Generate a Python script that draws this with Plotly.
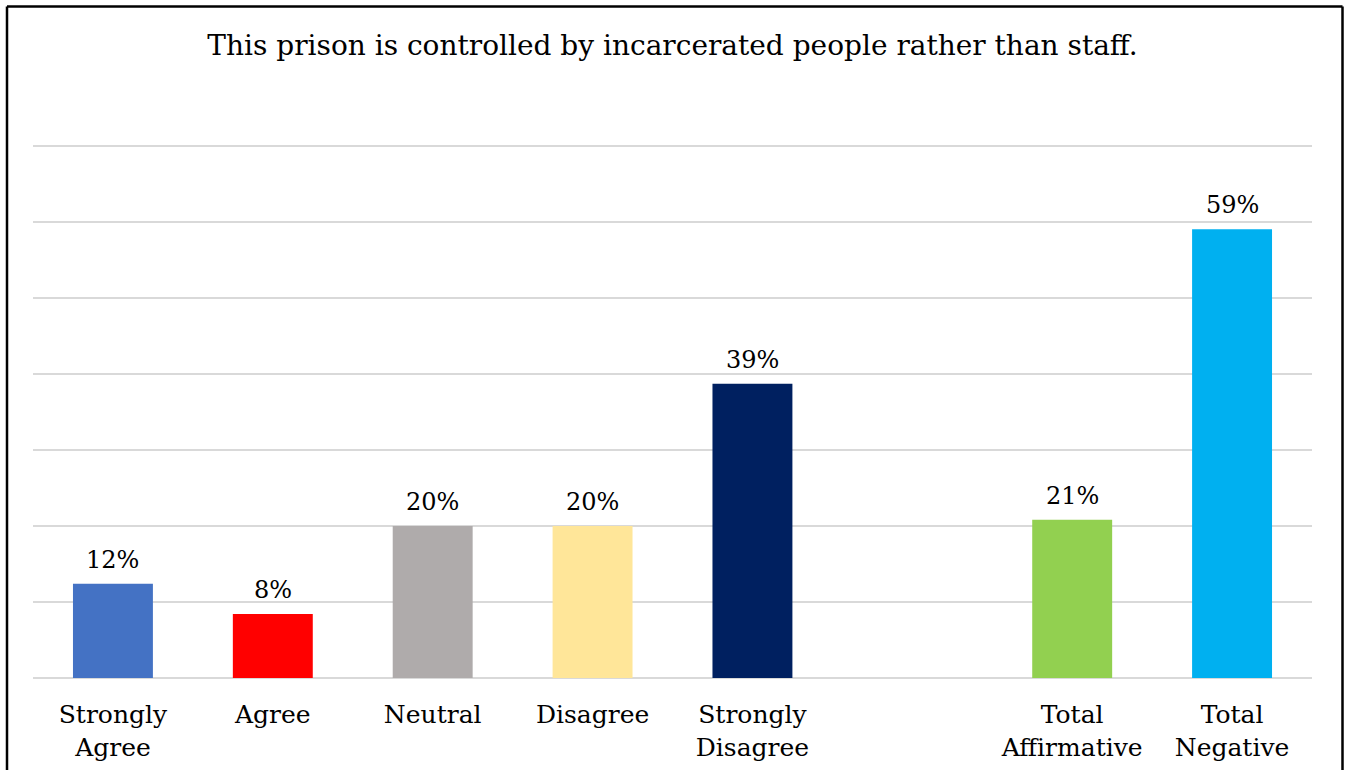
import plotly.graph_objects as go

categories = ["Strongly<br>Agree", "Agree", "Neutral", "Disagree", "Strongly<br>Disagree", "", "Total<br>Affirmative", "Total<br>Negative"]
bar_positions = [0, 1, 2, 3, 4, 6, 7]
values = [12.4, 8.4, 20.0, 20.0, 38.7, 20.8, 59.0]
labels = ["12%", "8%", "20%", "20%", "39%", "21%", "59%"]
colors = ["#4472C4", "#FF0000", "#AFABAB", "#FFE699", "#002060", "#92D050", "#00B0F0"]
title = "This prison is controlled by incarcerated people rather than staff."

FONT = "DejaVu Serif, Liberation Serif, serif"

W, H = 1345, 770
YMAX = 71
L, R, B = 33, 33, 92
T = (146 * YMAX - (H - B)) / (YMAX - 1)
pw, ph = W - L - R, H - T - B

fig = go.Figure()
fig.add_trace(go.Bar(
    x=bar_positions, y=values,
    marker=dict(color=colors, line=dict(width=0)),
    width=0.5, hoverinfo="skip",
))
for xp, v, lab in zip(bar_positions, values, labels):
    fig.add_annotation(x=xp, y=v, text=lab, showarrow=False, xanchor="center",
                       yanchor="bottom", yshift=8,
                       font=dict(family=FONT, size=24, color="#000000"))

fig.update_layout(
    width=W, height=H,
    margin=dict(l=L, r=R, t=T, b=B, autoexpand=False),
    paper_bgcolor="white", plot_bgcolor="white",
    showlegend=False,
    title=dict(text=title, x=0.5, xanchor="center", y=1 - 45 / H, yanchor="middle",
               font=dict(family=FONT, size=28, color="#000000")),
    font=dict(family=FONT, color="#000000"),
)
fig.update_xaxes(
    range=[-0.5, 7.5], tickvals=list(range(len(categories))), ticktext=categories,
    tickfont=dict(family=FONT, size=25, color="#000000"),
    showgrid=False, zeroline=False, showline=False, automargin=False,
    ticks="outside", ticklen=14, tickcolor="rgba(0,0,0,0)",
)
fig.update_yaxes(
    range=[0, YMAX], tickvals=[10, 20, 30, 40, 50, 60, 70], showticklabels=False,
    showgrid=True, gridcolor="#D9D9D9", gridwidth=2, automargin=False,
    zeroline=True, zerolinecolor="#D9D9D9", zerolinewidth=2,
)
bx0 = (7 - L) / pw
bx1 = 1 + (1342.5 - (W - R)) / pw
by1 = 1 + (T - 7) / ph
by0 = -(B + 5) / ph
border = dict(color="black", width=2.5)
fig.add_shape(type="line", xref="paper", yref="paper", x0=bx0, x1=bx0, y0=by0, y1=by1, line=border)
fig.add_shape(type="line", xref="paper", yref="paper", x0=bx0, x1=bx1, y0=by1, y1=by1, line=border)
fig.add_shape(type="line", xref="paper", yref="paper", x0=bx1, x1=bx1, y0=by0, y1=by1, line=border)

fig.write_html("out.html", config={"displayModeBar": False},
               post_script="document.body.style.margin='0';document.body.style.overflow='hidden';")
